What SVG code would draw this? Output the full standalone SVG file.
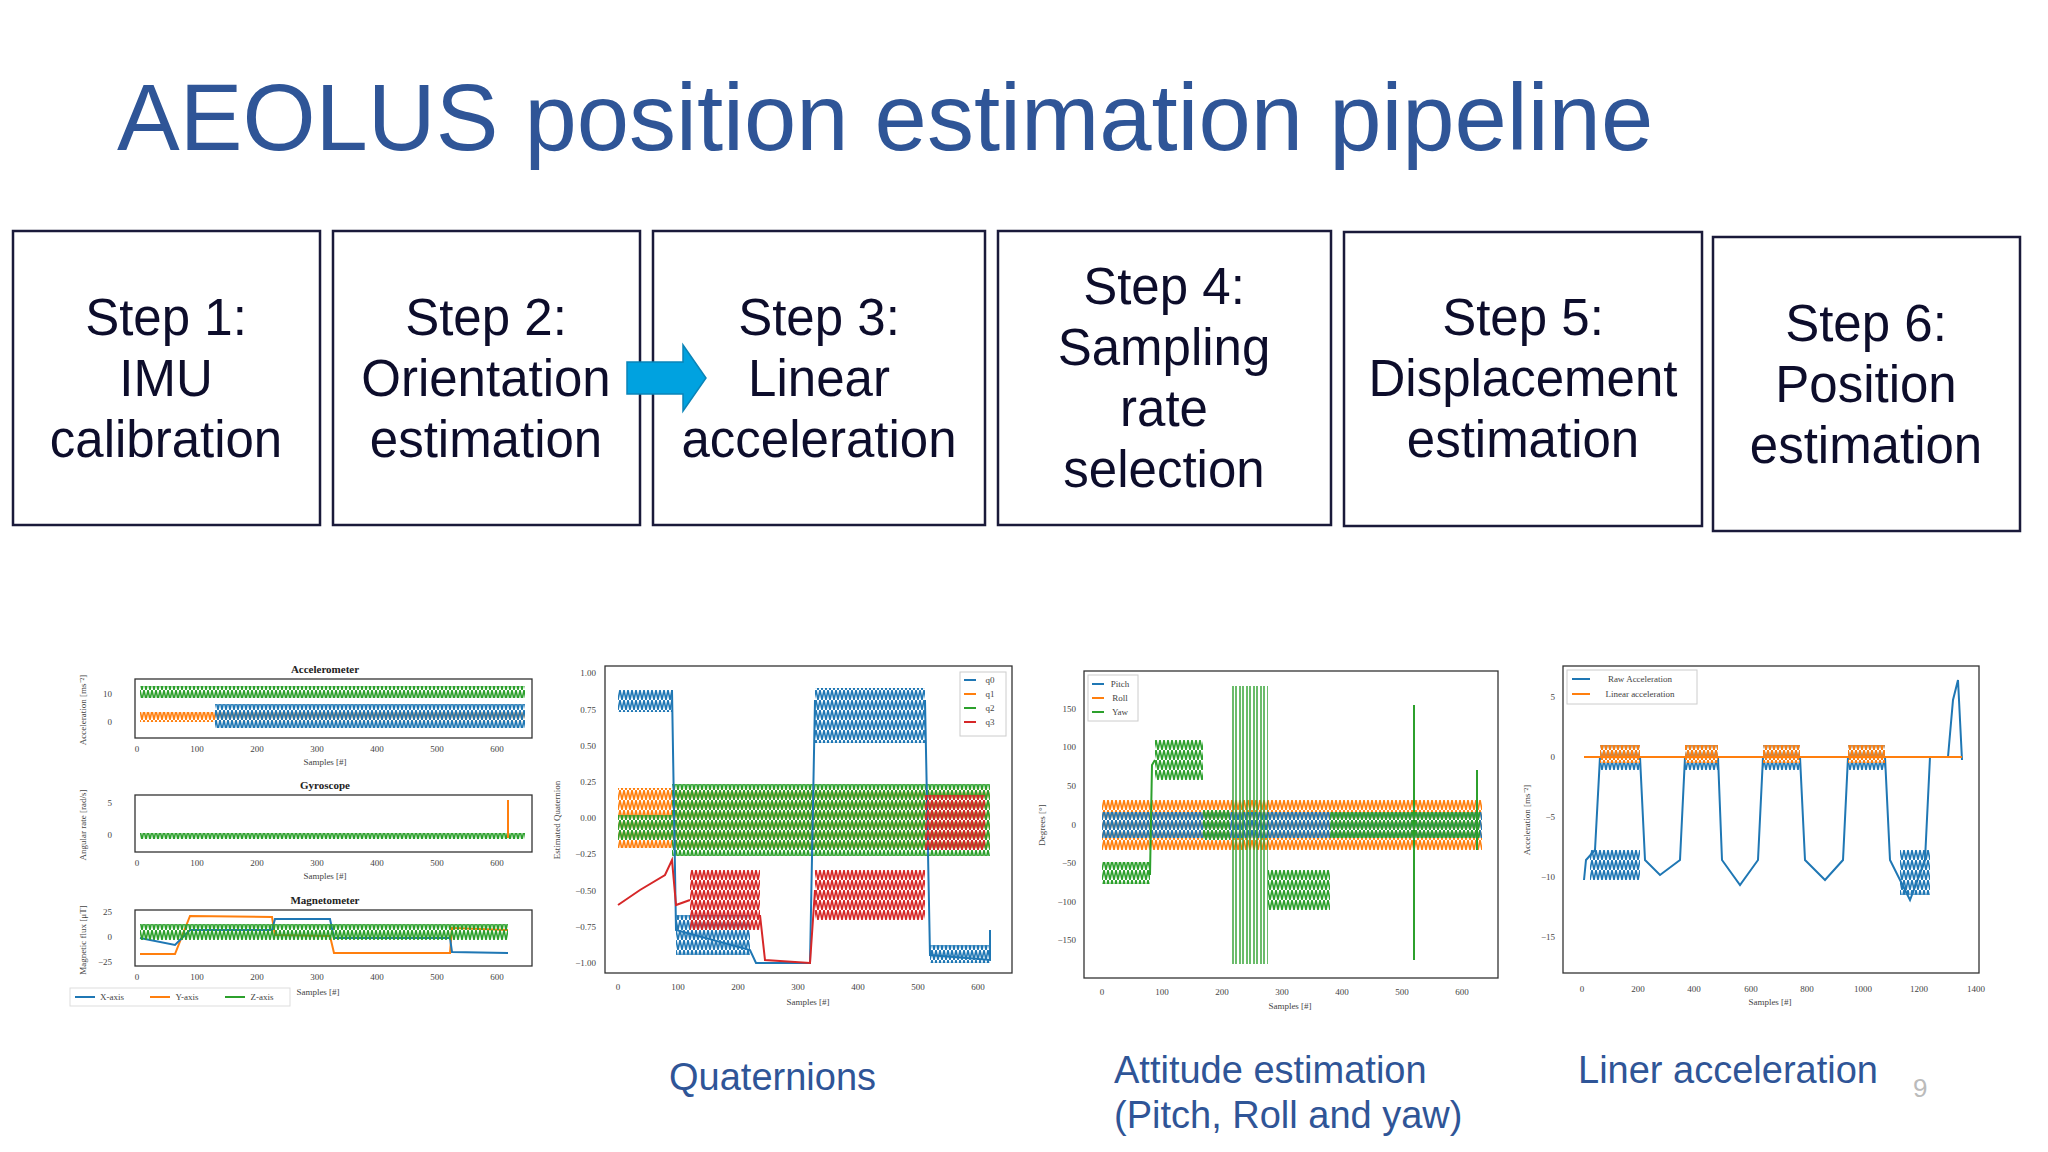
<svg xmlns="http://www.w3.org/2000/svg" width="2048" height="1152" viewBox="0 0 2048 1152">
<style>
.title{font-family:"Liberation Sans",Arial,sans-serif;font-size:94px;fill:#2f5597}
.box{fill:#fff;stroke:#1a1a3a;stroke-width:2.5}
.bt{font-family:"Liberation Sans",Arial,sans-serif;font-size:51px;fill:#0d0d2b;text-anchor:middle}
.cap{font-family:"Liberation Sans",Arial,sans-serif;font-size:38px;fill:#2f5597}
.ax{fill:#fff;stroke:#333;stroke-width:1.3}
.tk{font-family:"Liberation Serif",serif;font-size:9px;fill:#444;text-anchor:middle}
.tkr{font-family:"Liberation Serif",serif;font-size:9px;fill:#444;text-anchor:end}
.pt{font-family:"Liberation Serif",serif;font-size:11px;font-weight:bold;fill:#222;text-anchor:middle}
.b{stroke:#1f77b4;fill:none;stroke-width:2}
.o{stroke:#ff7f0e;fill:none;stroke-width:2}
.g{stroke:#2ca02c;fill:none;stroke-width:2}
.r{stroke:#d62728;fill:none;stroke-width:2}
</style>
<defs>
<pattern id="pb" width="4" height="10" patternUnits="userSpaceOnUse"><path d="M0 0L2 10M2 10L4 0" stroke="#1f77b4" stroke-width="1.6" fill="none"/></pattern>
<pattern id="po" width="4" height="10" patternUnits="userSpaceOnUse"><path d="M0 0L2 10M2 10L4 0" stroke="#ff7f0e" stroke-width="1.6" fill="none"/></pattern>
<pattern id="pg" width="4" height="10" patternUnits="userSpaceOnUse"><path d="M0 0L2 10M2 10L4 0" stroke="#2ca02c" stroke-width="1.6" fill="none"/></pattern>
<pattern id="pr" width="4" height="10" patternUnits="userSpaceOnUse"><path d="M0 0L2 10M2 10L4 0" stroke="#d62728" stroke-width="1.6" fill="none"/></pattern>
<pattern id="pgw" width="7" height="300" patternUnits="userSpaceOnUse"><path d="M1 0V300M4 0V300" stroke="#2ca02c" stroke-width="1.4"/></pattern>
</defs>
<rect width="2048" height="1152" fill="#fff"/>
<text class="title" x="117" y="150">AEOLUS position estimation pipeline</text>

<g id="step1"><rect class="box" x="13" y="231" width="307" height="294"/><text class="bt" x="166" y="335">Step 1:</text><text class="bt" x="166" y="396">IMU</text><text class="bt" x="166" y="457">calibration</text></g>
<g id="step2"><rect class="box" x="333" y="231" width="307" height="294"/><text class="bt" x="486" y="335">Step 2:</text><text class="bt" x="486" y="396">Orientation</text><text class="bt" x="486" y="457">estimation</text></g>
<g id="step3"><rect class="box" x="653" y="231" width="332" height="294"/><text class="bt" x="819" y="335">Step 3:</text><text class="bt" x="819" y="396">Linear</text><text class="bt" x="819" y="457">acceleration</text></g>
<g id="step4"><rect class="box" x="998" y="231" width="333" height="294"/><text class="bt" x="1164" y="304">Step 4:</text><text class="bt" x="1164" y="365">Sampling</text><text class="bt" x="1164" y="426">rate</text><text class="bt" x="1164" y="487">selection</text></g>
<g id="step5"><rect class="box" x="1344" y="232" width="358" height="294"/><text class="bt" x="1523" y="335">Step 5:</text><text class="bt" x="1523" y="396">Displacement</text><text class="bt" x="1523" y="457">estimation</text></g>
<g id="step6"><rect class="box" x="1713" y="237" width="307" height="294"/><text class="bt" x="1866" y="341">Step 6:</text><text class="bt" x="1866" y="402">Position</text><text class="bt" x="1866" y="463">estimation</text></g>

<g id="connectors"><polygon points="627,362 683,362 683,345 706,378 683,411 683,394 627,394" fill="#00a2e0" stroke="#0a84b8" stroke-width="1.5"/></g>

<g id="imu-plots">
<text class="pt" x="325" y="673">Accelerometer</text>
<rect class="ax" x="135" y="679" width="397" height="59"/>
<rect x="140" y="686" width="385" height="12" fill="url(#pg)"/>
<rect x="140" y="712" width="385" height="10" fill="url(#po)"/>
<rect x="215" y="704" width="310" height="24" fill="url(#pb)"/>
<text class="tkr" x="112" y="697">10</text><text class="tkr" x="112" y="725">0</text>
<text class="tk" x="137" y="752">0</text><text class="tk" x="197" y="752">100</text><text class="tk" x="257" y="752">200</text><text class="tk" x="317" y="752">300</text><text class="tk" x="377" y="752">400</text><text class="tk" x="437" y="752">500</text><text class="tk" x="497" y="752">600</text>
<text class="tk" x="325" y="765">Samples [#]</text>
<text class="tk" transform="translate(86,710) rotate(-90)">Acceleration [ms⁻²]</text>
<text class="pt" x="325" y="789">Gyroscope</text>
<rect class="ax" x="135" y="795" width="397" height="57"/>
<rect x="140" y="833" width="385" height="6" fill="url(#pg)"/>
<line class="o" x1="508" y1="800" x2="508" y2="838"/>
<text class="tkr" x="112" y="806">5</text><text class="tkr" x="112" y="838">0</text>
<text class="tk" x="137" y="866">0</text><text class="tk" x="197" y="866">100</text><text class="tk" x="257" y="866">200</text><text class="tk" x="317" y="866">300</text><text class="tk" x="377" y="866">400</text><text class="tk" x="437" y="866">500</text><text class="tk" x="497" y="866">600</text>
<text class="tk" x="325" y="879">Samples [#]</text>
<text class="tk" transform="translate(86,825) rotate(-90)">Angular rate [rad/s]</text>
<text class="pt" x="325" y="904">Magnetometer</text>
<rect class="ax" x="135" y="910" width="397" height="56"/>
<polyline class="o" points="140,954 175,954 190,916 272,917 275,935 330,936 334,953 450,953 452,928 508,930"/>
<polyline class="b" points="140,938 175,945 190,930 272,930 275,919 330,919 334,938 450,938 452,952 508,953"/>
<rect x="140" y="924" width="368" height="16" fill="url(#pg)"/>
<text class="tkr" x="112" y="915">25</text><text class="tkr" x="112" y="940">0</text><text class="tkr" x="112" y="965">−25</text>
<text class="tk" x="137" y="980">0</text><text class="tk" x="197" y="980">100</text><text class="tk" x="257" y="980">200</text><text class="tk" x="317" y="980">300</text><text class="tk" x="377" y="980">400</text><text class="tk" x="437" y="980">500</text><text class="tk" x="497" y="980">600</text>
<text class="tk" x="318" y="995">Samples [#]</text>
<text class="tk" transform="translate(86,940) rotate(-90)">Magnetic flux [μT]</text>
<rect x="70" y="988" width="220" height="18" fill="#fff" stroke="#ddd"/>
<line class="b" x1="75" y1="997" x2="95" y2="997"/><text class="tk" x="112" y="1000">X-axis</text>
<line class="o" x1="150" y1="997" x2="170" y2="997"/><text class="tk" x="187" y="1000">Y-axis</text>
<line class="g" x1="225" y1="997" x2="245" y2="997"/><text class="tk" x="262" y="1000">Z-axis</text>
</g>

<g id="quaternion-plot">
<rect class="ax" x="605" y="666" width="407" height="307"/>
<rect x="618" y="788" width="372" height="60" fill="url(#po)"/>
<rect x="672" y="784" width="318" height="72" fill="url(#pg)"/>
<rect x="618" y="815" width="54" height="25" fill="url(#pg)"/>
<rect x="618" y="690" width="54" height="22" fill="url(#pb)"/>
<polyline class="b" points="672,690 676,930 750,950 756,963 810,963 815,700"/>
<rect x="676" y="915" width="74" height="40" fill="url(#pb)"/>
<rect x="815" y="688" width="110" height="55" fill="url(#pb)"/>
<polyline class="b" points="925,700 930,955 990,960 990,930"/>
<rect x="930" y="945" width="60" height="18" fill="url(#pb)"/>
<polyline class="r" points="618,905 640,890 665,875 672,860 676,905 690,900"/>
<rect x="690" y="870" width="70" height="60" fill="url(#pr)"/>
<polyline class="r" points="760,915 765,960 810,963 815,890"/>
<rect x="815" y="870" width="110" height="50" fill="url(#pr)"/>
<rect x="925" y="795" width="60" height="55" fill="url(#pr)"/>
<rect x="960" y="672" width="46" height="64" fill="#fff" stroke="#ccc"/>
<line class="b" x1="964" y1="680" x2="976" y2="680"/><text class="tk" x="990" y="683">q0</text>
<line class="o" x1="964" y1="694" x2="976" y2="694"/><text class="tk" x="990" y="697">q1</text>
<line class="g" x1="964" y1="708" x2="976" y2="708"/><text class="tk" x="990" y="711">q2</text>
<line class="r" x1="964" y1="722" x2="976" y2="722"/><text class="tk" x="990" y="725">q3</text>
<text class="tkr" x="596" y="676">1.00</text><text class="tkr" x="596" y="713">0.75</text><text class="tkr" x="596" y="749">0.50</text><text class="tkr" x="596" y="785">0.25</text><text class="tkr" x="596" y="821">0.00</text><text class="tkr" x="596" y="857">−0.25</text><text class="tkr" x="596" y="894">−0.50</text><text class="tkr" x="596" y="930">−0.75</text><text class="tkr" x="596" y="966">−1.00</text>
<text class="tk" x="618" y="990">0</text><text class="tk" x="678" y="990">100</text><text class="tk" x="738" y="990">200</text><text class="tk" x="798" y="990">300</text><text class="tk" x="858" y="990">400</text><text class="tk" x="918" y="990">500</text><text class="tk" x="978" y="990">600</text>
<text class="tk" x="808" y="1005">Samples [#]</text>
<text class="tk" transform="translate(560,820) rotate(-90)">Estimated Quaternion</text>
</g>

<g id="attitude-plot">
<rect class="ax" x="1084" y="671" width="414" height="307"/>
<rect x="1102" y="800" width="380" height="50" fill="url(#po)"/>
<rect x="1102" y="812" width="380" height="26" fill="url(#pb)"/>
<rect x="1102" y="862" width="48" height="22" fill="url(#pg)"/>
<polyline class="g" points="1150,875 1152,765 1155,760"/>
<rect x="1155" y="740" width="48" height="40" fill="url(#pg)"/>
<rect x="1203" y="810" width="27" height="30" fill="url(#pg)"/>
<rect x="1232" y="686" width="36" height="278" fill="url(#pgw)"/>
<rect x="1268" y="870" width="62" height="40" fill="url(#pg)"/>
<rect x="1330" y="812" width="150" height="26" fill="url(#pg)"/>
<line class="g" x1="1414" y1="705" x2="1414" y2="960"/>
<line class="g" x1="1477" y1="770" x2="1477" y2="850"/>
<rect x="1088" y="675" width="50" height="46" fill="#fff" stroke="#ccc"/>
<line class="b" x1="1092" y1="684" x2="1104" y2="684"/><text class="tk" x="1120" y="687">Pitch</text>
<line class="o" x1="1092" y1="698" x2="1104" y2="698"/><text class="tk" x="1120" y="701">Roll</text>
<line class="g" x1="1092" y1="712" x2="1104" y2="712"/><text class="tk" x="1120" y="715">Yaw</text>
<text class="tkr" x="1076" y="712">150</text><text class="tkr" x="1076" y="750">100</text><text class="tkr" x="1076" y="789">50</text><text class="tkr" x="1076" y="828">0</text><text class="tkr" x="1076" y="866">−50</text><text class="tkr" x="1076" y="905">−100</text><text class="tkr" x="1076" y="943">−150</text>
<text class="tk" x="1102" y="995">0</text><text class="tk" x="1162" y="995">100</text><text class="tk" x="1222" y="995">200</text><text class="tk" x="1282" y="995">300</text><text class="tk" x="1342" y="995">400</text><text class="tk" x="1402" y="995">500</text><text class="tk" x="1462" y="995">600</text>
<text class="tk" x="1290" y="1009">Samples [#]</text>
<text class="tk" transform="translate(1045,825) rotate(-90)">Degrees [°]</text>
</g>

<g id="linacc-plot">
<rect class="ax" x="1563" y="666" width="416" height="307"/>
<polyline class="b" points="1584,880 1586,860 1595,850 1600,757 1640,757 1645,860 1660,875 1680,860 1685,757 1718,757 1722,860 1740,885 1758,860 1763,757 1800,757 1805,860 1825,880 1843,860 1848,757 1885,757 1890,860 1910,900 1925,860 1930,757 1948,757 1953,700 1958,680 1962,760"/>
<rect x="1600" y="745" width="40" height="25" fill="url(#pb)"/>
<rect x="1685" y="745" width="33" height="25" fill="url(#pb)"/>
<rect x="1763" y="745" width="37" height="25" fill="url(#pb)"/>
<rect x="1848" y="745" width="37" height="25" fill="url(#pb)"/>
<rect x="1590" y="850" width="50" height="30" fill="url(#pb)"/>
<rect x="1900" y="850" width="30" height="45" fill="url(#pb)"/>
<line class="o" x1="1584" y1="757" x2="1962" y2="757"/>
<rect x="1600" y="745" width="40" height="18" fill="url(#po)"/>
<rect x="1685" y="745" width="33" height="18" fill="url(#po)"/>
<rect x="1763" y="745" width="37" height="18" fill="url(#po)"/>
<rect x="1848" y="745" width="37" height="18" fill="url(#po)"/>
<rect x="1567" y="670" width="130" height="34" fill="#fff" stroke="#ccc"/>
<line class="b" x1="1572" y1="679" x2="1590" y2="679"/><text class="tk" x="1640" y="682">Raw Acceleration</text>
<line class="o" x1="1572" y1="694" x2="1590" y2="694"/><text class="tk" x="1640" y="697">Linear acceleration</text>
<text class="tkr" x="1555" y="700">5</text><text class="tkr" x="1555" y="760">0</text><text class="tkr" x="1555" y="820">−5</text><text class="tkr" x="1555" y="880">−10</text><text class="tkr" x="1555" y="940">−15</text>
<text class="tk" x="1582" y="992">0</text><text class="tk" x="1638" y="992">200</text><text class="tk" x="1694" y="992">400</text><text class="tk" x="1751" y="992">600</text><text class="tk" x="1807" y="992">800</text><text class="tk" x="1863" y="992">1000</text><text class="tk" x="1919" y="992">1200</text><text class="tk" x="1976" y="992">1400</text>
<text class="tk" x="1770" y="1005">Samples [#]</text>
<text class="tk" transform="translate(1530,820) rotate(-90)">Acceleration [ms⁻²]</text>
</g>

<text class="cap" x="669" y="1090">Quaternions</text>
<text class="cap" x="1114" y="1083">Attitude estimation</text>
<text class="cap" x="1114" y="1128">(Pitch, Roll and yaw)</text>
<text class="cap" x="1578" y="1083">Liner acceleration</text>
<text x="1913" y="1097" font-family="Liberation Sans,Arial,sans-serif" font-size="26" fill="#bbb">9</text>
</svg>
